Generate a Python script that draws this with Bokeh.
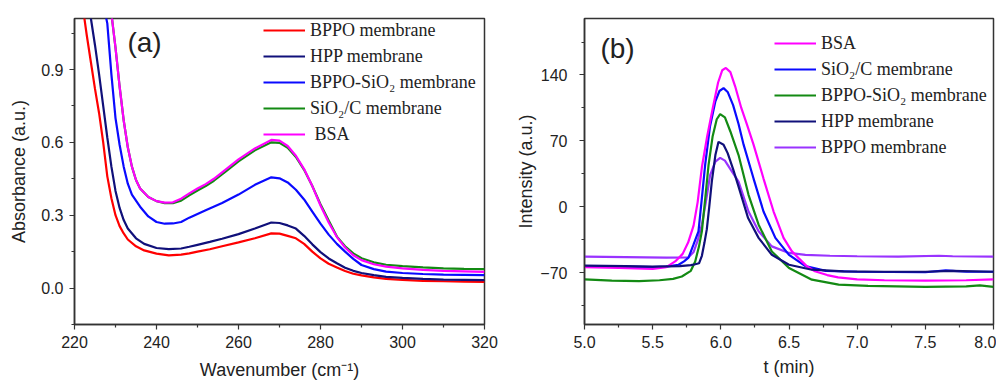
from bokeh.plotting import figure
from bokeh.layouts import row
from bokeh.models import Range1d, FixedTicker, Label, Legend, LegendItem, PrintfTickFormatter
from bokeh.embed import file_html
from bokeh.resources import INLINE

# ---------------- Panel (a): UV absorbance ----------------
wn_bppo = [220, 221, 222, 223, 224, 225, 226, 227, 228, 229, 230, 231, 232, 233, 235, 237, 240, 243, 246, 248, 250,
           253, 256, 260, 264, 268, 270, 272, 274, 276, 278, 280, 282, 284, 286, 288, 290, 293, 296, 300, 305, 310, 315, 320]
ab_bppo = [1.45, 1.29, 1.16, 1.04, 0.93, 0.82, 0.72, 0.60, 0.46, 0.37, 0.30, 0.255, 0.225, 0.20, 0.172, 0.155, 0.142,
           0.135, 0.138, 0.143, 0.150, 0.160, 0.172, 0.188, 0.205, 0.225, 0.224, 0.215, 0.205, 0.182, 0.150, 0.122,
           0.100, 0.085, 0.070, 0.059, 0.052, 0.044, 0.038, 0.034, 0.030, 0.028, 0.026, 0.025]

wn_hpp = [220, 221, 222, 223, 224, 225, 226, 227, 228, 229, 230, 231, 232, 233, 235, 237, 240, 243, 246, 248, 250,
          253, 256, 260, 264, 268, 270, 272, 274, 276, 278, 280, 282, 284, 286, 288, 290, 293, 296, 300, 305, 310, 315, 320]
ab_hpp = [1.65, 1.48, 1.33, 1.20, 1.11, 1.00, 0.88, 0.75, 0.62, 0.50, 0.40, 0.33, 0.28, 0.245, 0.205, 0.182, 0.165,
          0.160, 0.163, 0.170, 0.178, 0.190, 0.203, 0.222, 0.245, 0.270, 0.268, 0.258, 0.245, 0.215, 0.180, 0.148,
          0.122, 0.102, 0.084, 0.071, 0.062, 0.053, 0.046, 0.042, 0.038, 0.035, 0.034, 0.033]

wn_bsio = [220, 222, 224, 226, 227, 228, 229, 230, 231, 232, 233, 234, 236, 238, 240, 242, 244, 246, 248, 250, 252,
           256, 260, 264, 268, 270, 272, 274, 276, 278, 280, 282, 284, 286, 288, 290, 293, 296, 300, 305, 310, 315, 320]
ab_bsio = [1.95, 1.68, 1.45, 1.25, 1.17, 1.09, 0.88, 0.70, 0.59, 0.50, 0.43, 0.385, 0.335, 0.295, 0.272, 0.265, 0.266,
           0.272, 0.290, 0.305, 0.320, 0.350, 0.385, 0.425, 0.456, 0.452, 0.435, 0.405, 0.365, 0.315, 0.265, 0.220,
           0.182, 0.150, 0.120, 0.095, 0.078, 0.068, 0.062, 0.058, 0.055, 0.054, 0.053]

wn_sic = [220, 224, 226, 228, 229, 230, 231, 232, 233, 234, 235, 236, 238, 240, 242, 244, 246, 248, 250, 252, 254,
          257, 260, 264, 268, 270, 272, 274, 276, 278, 280, 282, 284, 286, 288, 290, 293, 296, 300, 305, 310, 315, 320]
ab_sic = [2.2, 1.7, 1.5, 1.25, 1.13, 0.99, 0.83, 0.69, 0.58, 0.50, 0.445, 0.41, 0.375, 0.358, 0.350, 0.350, 0.360,
          0.382, 0.402, 0.420, 0.442, 0.482, 0.522, 0.567, 0.600, 0.598, 0.578, 0.540, 0.487, 0.420, 0.345, 0.278,
          0.212, 0.172, 0.143, 0.123, 0.106, 0.096, 0.090, 0.085, 0.081, 0.079, 0.078]

wn_bsa = [220, 224, 226, 228, 229, 230, 231, 232, 233, 234, 235, 236, 238, 240, 242, 244, 246, 248, 250, 252, 254,
          257, 260, 264, 268, 270, 272, 274, 276, 278, 280, 282, 284, 286, 288, 290, 293, 296, 300, 305, 310, 315, 320]
ab_bsa = [2.2, 1.7, 1.5, 1.25, 1.13, 0.99, 0.83, 0.69, 0.58, 0.50, 0.445, 0.41, 0.375, 0.358, 0.352, 0.353, 0.368,
          0.390, 0.410, 0.428, 0.450, 0.490, 0.530, 0.575, 0.610, 0.607, 0.585, 0.545, 0.490, 0.420, 0.340, 0.270,
          0.210, 0.167, 0.135, 0.115, 0.098, 0.088, 0.081, 0.075, 0.071, 0.069, 0.067]

names_a = ["BPPO membrane", "HPP membrane", "BPPO-SiO\u2082 membrane", "SiO\u2082/C membrane", " BSA"]
xticks_a = [220, 240, 260, 280, 300, 320]
xminor_a = [230, 250, 270, 290, 310]
yticks_a = [0.0, 0.3, 0.6, 0.9]
yminor_a = [-0.15, 0.15, 0.45, 0.75, 1.05]

# ---------------- Panel (b): elution profiles ----------------
t_bsa = [5.0, 5.25, 5.5, 5.6, 5.665, 5.72, 5.76, 5.80, 5.83, 5.861, 5.90, 5.941, 5.98, 6.01, 6.037, 6.07, 6.105, 6.15,
         6.19, 6.24, 6.313, 6.387, 6.46, 6.52, 6.57, 6.63, 6.69, 6.78, 6.86, 7.0, 7.2, 7.5, 7.8, 8.0]
i_bsa = [-64, -65, -66, -64, -58, -50, -38, -20, 5, 42, 75, 105, 132, 145, 147.5, 143, 128, 105,
         88, 66, 30, -5, -33, -47, -54.5, -63, -68.5, -72.5, -75, -77, -78, -78.5, -78, -77]

t_sic = [5.0, 5.3, 5.5, 5.6, 5.69, 5.73, 5.763, 5.80, 5.836, 5.86, 5.885, 5.92, 5.96, 5.99, 6.02, 6.05, 6.09, 6.13,
         6.167, 6.24, 6.313, 6.4, 6.5, 6.62, 6.77, 7.0, 7.5, 7.65, 7.8, 8.0]
i_sic = [-63, -63.5, -64, -63.5, -61.5, -58, -54, -40, -26, 8, 44.5, 85, 112, 123, 126, 122, 108, 88,
         66, 30, -5, -33, -51, -63, -68, -69, -69.5, -67.5, -69, -69]

t_bsio = [5.0, 5.2, 5.4, 5.55, 5.65, 5.714, 5.78, 5.812, 5.84, 5.861, 5.885, 5.91, 5.94, 5.97, 5.995, 6.03, 6.07, 6.13,
          6.203, 6.277, 6.374, 6.5, 6.668, 6.864, 7.08, 7.5, 7.8, 7.9, 8.0]
i_bsio = [-77, -78.5, -79, -78, -76.5, -74, -68, -58, -42, -26, 8, 44.5, 75, 93, 98.5, 95, 80, 55,
          12.7, -19, -47.4, -65, -77.4, -82.7, -84, -85, -84.5, -83.5, -85]

t_hpp = [5.0, 5.3, 5.5, 5.7, 5.78, 5.812, 5.84, 5.861, 5.88, 5.897, 5.915, 5.934, 5.96, 5.983, 6.02, 6.05, 6.09, 6.13,
         6.2, 6.277, 6.374, 6.5, 6.668, 6.9, 7.2, 7.5, 7.7, 8.0]
i_hpp = [-62.5, -63, -63.5, -63, -62, -61, -60, -52, -38, -24, 0, 27, 55, 69, 66, 57, 40, 21.5,
         -12, -33, -51, -61.5, -66.8, -68.5, -69, -69, -68, -69]

t_bppo = [5.0, 5.3, 5.6, 5.763, 5.80, 5.83, 5.861, 5.89, 5.922, 5.96, 5.995, 6.03, 6.07, 6.13, 6.203, 6.277, 6.374,
          6.5, 6.62, 6.8, 7.0, 7.3, 7.6, 7.7, 8.0]
i_bppo = [-53, -53.5, -54, -53.7, -48, -36, -19, 5, 34, 48, 52, 49, 40, 26.8, -5, -26, -42,
          -49, -51, -52, -52.5, -53, -52, -52.5, -53]

names_b = ["BSA", "SiO\u2082/C membrane", "BPPO-SiO\u2082 membrane", "HPP membrane", "BPPO membrane"]
xticks_b = [5.0, 5.5, 6.0, 6.5, 7.0, 7.5, 8.0]
xminor_b = [5.25, 5.75, 6.25, 6.75, 7.25, 7.75]
yticks_b = [-70, 0, 70, 140]
yminor_b = [-105, -35, 35, 105, 175]

RED, NAVY, BLUE, GREEN, MAG, PURP = "#ff0000", "#10107a", "#0a0aff", "#138a13", "#ff00ff", "#9933ff"
TICK_FONT = "Liberation Sans"
LEG_FONT = "Liberation Serif"
FRAME = "#333333"


def style(p, xt, xm, yt, ym):
    p.xgrid.visible = False
    p.ygrid.visible = False
    p.outline_line_color = FRAME
    p.outline_line_width = 1.5
    p.background_fill_color = "white"
    p.border_fill_color = "white"
    for ax in (p.xaxis[0], p.yaxis[0]):
        ax.axis_line_color = FRAME
        ax.axis_line_width = 1.5
        ax.major_tick_line_color = FRAME
        ax.minor_tick_line_color = FRAME
        ax.major_tick_line_width = 1.2
        ax.minor_tick_line_width = 1.2
        ax.major_tick_in = 0
        ax.major_tick_out = 5
        ax.minor_tick_in = 0
        ax.minor_tick_out = 3
        ax.major_label_text_font = TICK_FONT
        ax.major_label_text_font_size = "16px"
        ax.major_label_text_color = "#222222"
        ax.axis_label_text_font = TICK_FONT
        ax.axis_label_text_font_size = "18px"
        ax.axis_label_text_font_style = "normal"
        ax.axis_label_text_color = "#222222"
    p.xaxis[0].ticker = FixedTicker(ticks=xt, minor_ticks=xm)
    p.yaxis[0].ticker = FixedTicker(ticks=yt, minor_ticks=ym)


def legend(p, items, loc, spacing):
    lg = Legend(items=items, location=loc)
    lg.border_line_color = None
    lg.background_fill_alpha = 0
    lg.label_text_font = LEG_FONT
    lg.label_text_font_size = "18px"
    lg.label_text_color = "#222222"
    lg.glyph_width = 42
    lg.glyph_height = 22
    lg.label_height = 22
    lg.spacing = spacing
    lg.padding = 0
    lg.margin = 0
    lg.label_standoff = 5
    p.add_layout(lg)


p1 = figure(frame_width=410, frame_height=306, x_range=Range1d(220, 320), y_range=Range1d(-0.15, 1.11),
            output_backend="svg", toolbar_location=None,
            min_border_left=74, min_border_right=14, min_border_top=18, min_border_bottom=56,
            x_axis_label="Wavenumber (cm\u207b\u00b9)", y_axis_label="Absorbance (a.u.)")
style(p1, xticks_a, xminor_a, yticks_a, yminor_a)
p1.yaxis[0].formatter = PrintfTickFormatter(format="%.1f")
p1.xaxis[0].major_label_standoff = 6
p1.yaxis[0].major_label_standoff = 6
p1.xaxis[0].axis_label_standoff = 9
p1.yaxis[0].axis_label_standoff = 9

r_a = []
for xs, ys, c in [(wn_bppo, ab_bppo, RED), (wn_hpp, ab_hpp, NAVY), (wn_bsio, ab_bsio, BLUE),
                  (wn_sic, ab_sic, GREEN), (wn_bsa, ab_bsa, MAG)]:
    r_a.append(p1.line(xs, ys, line_color=c, line_width=2.2))
legend(p1, [LegendItem(label=n, renderers=[r]) for n, r in zip(names_a, r_a)], (189, 179), 4)
p1.add_layout(Label(x=232.9, y=0.949, text="(a)", text_font=TICK_FONT, text_font_size="28px",
                    text_color="#222222"))

p2 = figure(frame_width=409, frame_height=306, x_range=Range1d(5.0, 8.0), y_range=Range1d(-125, 200),
            output_backend="svg", toolbar_location=None,
            min_border_left=86, min_border_right=3, min_border_top=12, min_border_bottom=62,
            x_axis_label="t (min)", y_axis_label="Intensity (a.u.)")
style(p2, xticks_b, xminor_b, yticks_b, yminor_b)
p2.xaxis[0].formatter = PrintfTickFormatter(format="%.1f")
p2.xaxis[0].major_label_standoff = 6
p2.yaxis[0].major_label_standoff = 12
p2.xaxis[0].axis_label_standoff = 6
p2.yaxis[0].axis_label_standoff = 1

r_b = {}
for key, xs, ys, c in [("bppo", t_bppo, i_bppo, PURP), ("bsio", t_bsio, i_bsio, GREEN), ("sic", t_sic, i_sic, BLUE),
                       ("bsa", t_bsa, i_bsa, MAG), ("hpp", t_hpp, i_hpp, NAVY)]:
    r_b[key] = p2.line(xs, ys, line_color=c, line_width=2.2)
order_b = ["bsa", "sic", "bsio", "hpp", "bppo"]
legend(p2, [LegendItem(label=n, renderers=[r_b[k]]) for n, k in zip(names_b, order_b)], (190, 166), 4)
p2.add_layout(Label(x=5.117, y=151.6, text="(b)", text_font=TICK_FONT, text_font_size="28px",
                    text_color="#222222"))

layout = row(p1, p2)
open("out.html", "w").write(file_html(layout, INLINE))
